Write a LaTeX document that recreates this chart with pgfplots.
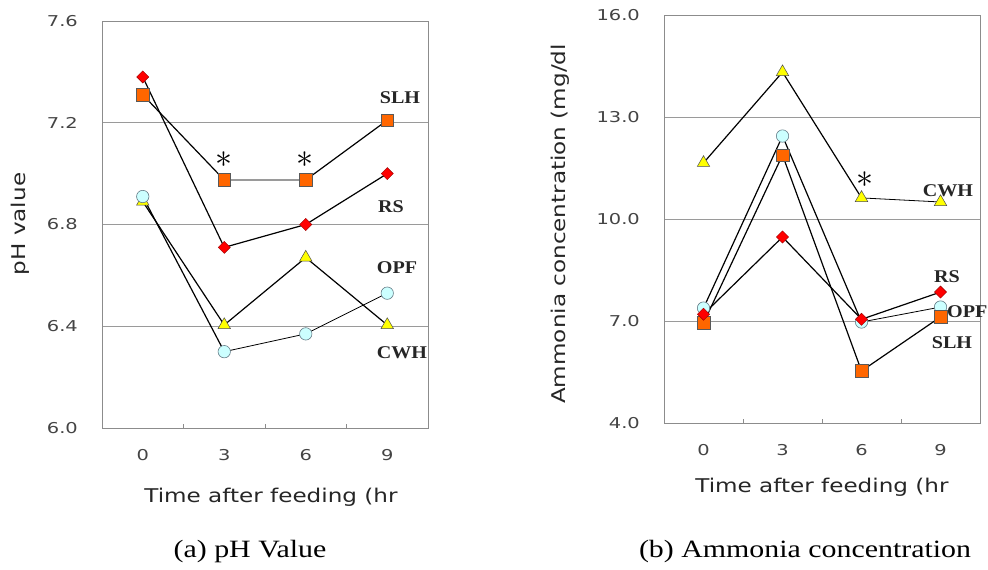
\documentclass[border=0pt]{standalone}
\usepackage{fontspec}
\usepackage{graphicx}
\usepackage{pgfplots}
\pgfplotsset{compat=1.18}
\newfontfamily\tickf[FakeStretch=1.3]{DejaVu Sans}
\newfontfamily\labf[FakeStretch=1.22]{DejaVu Sans}
\newfontfamily\capf[FakeStretch=1.2]{Liberation Serif}
\newfontfamily\serf[FakeStretch=1.12]{Liberation Serif}
\definecolor{sqorange}{HTML}{FF6600}
\definecolor{dred}{HTML}{FF0000}
\definecolor{tyellow}{HTML}{FFFF00}
\definecolor{ccyan}{HTML}{CCFFFF}
\definecolor{gridg}{HTML}{9A9A9A}
\definecolor{frameg}{HTML}{8C8C8C}
\definecolor{tickg}{HTML}{444444}
\pgfplotsset{
  panel/.style={
    scale only axis, clip=false,
    axis line style={frameg, line width=0.9bp},
    xmin=-0.5, xmax=3.5, xtick={0,1,2,3}, xticklabels={0,3,6,9},
    xtick pos=bottom, ytick pos=left, major tick length=0pt,
    ymajorgrids, major grid style={gridg, line width=0.8bp},
    extra x ticks={0.5,1.5,2.5}, extra x tick labels={},
    extra x tick style={major tick length=4bp, tick align=inside,
      tick style={frameg, line width=0.9bp}, xmajorgrids=false, ymajorgrids=false},
    xticklabel style={font=\tickf\fontsize{15}{15}\selectfont, text=tickg,
      anchor=center, inner sep=0pt, yshift=-27bp},
    yticklabel style={font=\tickf\fontsize{15}{15}\selectfont, text=tickg,
      anchor=east, inner sep=0pt, xshift=-24bp},
  },
  ln/.style={black, line width=1.2bp, no markers},
  lnthin/.style={black, line width=0.8bp, no markers},
  sqm/.style={only marks, mark=square*, mark size=6.3bp,
    mark options={fill=sqorange, draw=black!65, line width=0.5bp}},
  dim/.style={only marks, mark=square*, mark size=4.3bp,
    mark options={rotate=45, fill=dred, draw=red!60!black, line width=0.4bp}},
  trm/.style={only marks, mark=triangle*, mark size=7.2bp,
    mark options={fill=tyellow, draw=black!70, line width=0.5bp}},
  cim/.style={only marks, mark=*, mark size=6.2bp,
    mark options={fill=ccyan, draw=black!55!cyan!60!gray, line width=0.6bp}},
}
\begin{document}
\begin{tikzpicture}[x=1bp,y=1bp]
\useasboundingbox (0,0) rectangle (988,570);
% ---------------- (a) pH value
\begin{axis}[panel, at={(102bp,142bp)}, anchor=south west,
  width=326bp, height=407bp,
  ymin=6, ymax=7.6, ytick={6,6.4,6.8,7.2,7.6},
  yticklabels={6.0,6.4,6.8,7.2,7.6}]
% lines
\addplot[ln] coordinates {(0,6.89) (1,6.405) (2,6.67) (3,6.405)};
\addplot[ln] coordinates {(0,6.91) (1,6.30)};
\addplot[lnthin] coordinates {(1,6.30) (2,6.37) (3,6.53)};
\addplot[ln] coordinates {(0,7.31) (1,6.975)};
\addplot[gridg, line width=1.8bp, no markers] coordinates {(1,6.975) (2,6.975)};
\addplot[ln] coordinates {(2,6.975) (3,7.21)};
\addplot[ln] coordinates {(0,7.38) (1,6.71) (2,6.80) (3,7.00)};
% marks
\addplot[trm] coordinates {(0,6.89) (1,6.405) (2,6.67) (3,6.405)};
\addplot[cim] coordinates {(0,6.91) (1,6.30) (2,6.37) (3,6.53)};
\addplot[sqm] coordinates {(0,7.31) (1,6.975) (2,6.975) (3,7.21)};
\addplot[dim] coordinates {(0,7.38) (1,6.71) (2,6.80) (3,7.00)};
\end{axis}
% ---------------- (b) ammonia
\begin{axis}[panel, at={(664bp,147bp)}, anchor=south west,
  width=316bp, height=408bp,
  ymin=4, ymax=16, ytick={4,7,10,13,16},
  yticklabels={4.0,7.0,10.0,13.0,16.0}]
\addplot[ln] coordinates {(0,11.65) (1,14.32) (2,10.62)};
\addplot[lnthin] coordinates {(2,10.62) (3,10.5)};
\addplot[ln] coordinates {(0,7.38) (1,12.44) (2,6.97)};
\addplot[lnthin] coordinates {(2,6.97) (3,7.41)};
\addplot[ln] coordinates {(0,6.94) (1,11.88) (2,5.53) (3,7.12)};
\addplot[ln] coordinates {(0,7.2) (1,9.47) (2,7.05) (3,7.85)};
\addplot[trm] coordinates {(0,11.65) (1,14.32) (2,10.62) (3,10.5)};
\addplot[cim] coordinates {(0,7.38) (1,12.44) (2,6.97) (3,7.41)};
\addplot[sqm] coordinates {(0,6.94) (1,11.88) (2,5.53) (3,7.12)};
\addplot[dim] coordinates {(0,7.2) (1,9.47) (2,7.05) (3,7.85)};
\end{axis}
% ---------------- texts
\begin{scope}[every node/.style={font=\serf\bfseries\fontsize{18}{18}\selectfont, text=black!85, inner sep=0pt}]
\node at (400,472) {SLH};
\node at (391,363) {RS};
\node at (397,302) {OPF};
\node at (402,217) {CWH};
\node at (948,379) {CWH};
\node at (947,293) {RS};
\node[anchor=west] at (947,258) {OPF};
\node at (952,227) {SLH};
\end{scope}
\begin{scope}[every node/.style={inner sep=0pt, text=black}]
\node at (224,410) {\scalebox{3.4}{$\ast$}};
\node at (305,410) {\scalebox{3.4}{$\ast$}};
\node at (865,390) {\scalebox{3.4}{$\ast$}};
\end{scope}
\node[font=\labf\fontsize{19}{19}\selectfont, text=black!85, anchor=base, inner sep=0pt] at (271,67) {Time after feeding (hr};
\node[font=\labf\fontsize{19}{19}\selectfont, text=black!85, anchor=base, inner sep=0pt] at (822,77) {Time after feeding (hr};
\node[font=\labf\fontsize{19}{19}\selectfont, text=black!85, rotate=90, inner sep=0pt] at (20,346) {pH value};
\node[font=\labf\fontsize{19}{19}\selectfont, text=black!85, rotate=90, inner sep=0pt] at (560,346) {Ammonia concentration (mg/dl};
\node[font=\capf\fontsize{25}{25}\selectfont, anchor=base, inner sep=0pt] at (250,12) {(a) pH Value};
\node[font=\capf\fontsize{25}{25}\selectfont, anchor=base, inner sep=0pt] at (805,12) {(b) Ammonia concentration};
\end{tikzpicture}
\end{document}
